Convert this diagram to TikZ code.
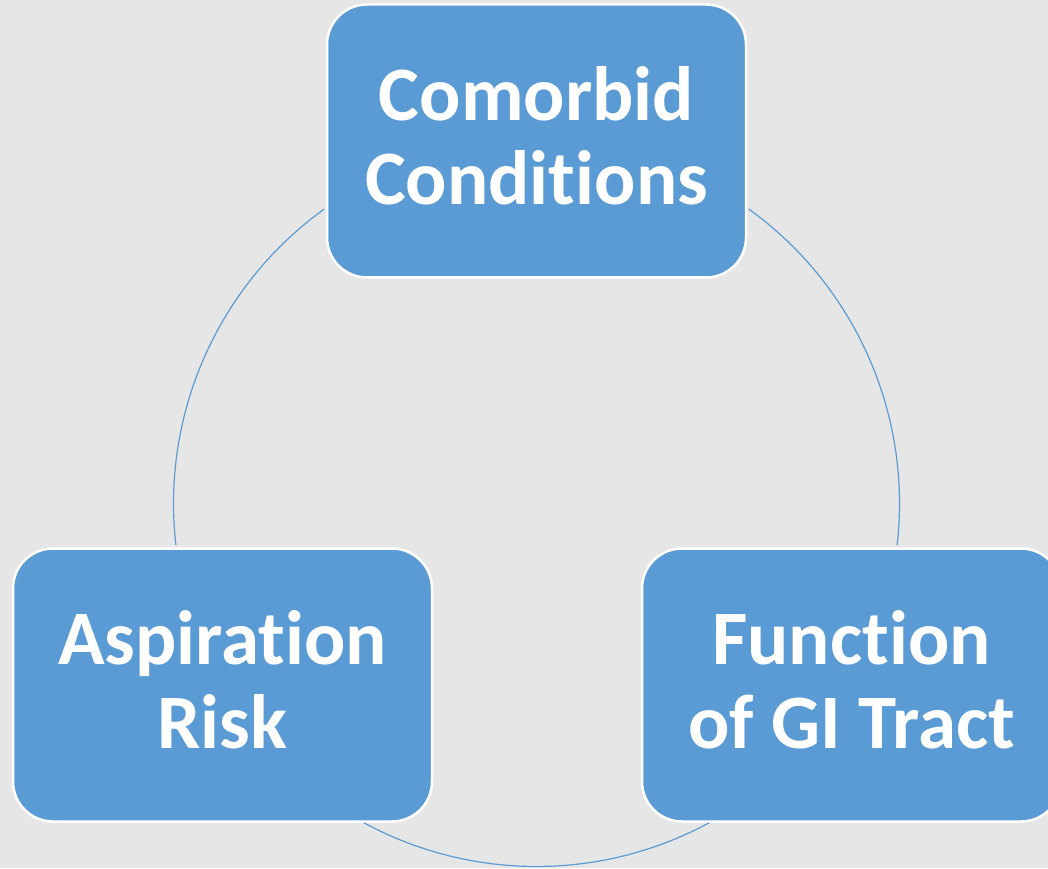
\documentclass[tikz,border=0pt]{standalone}
\usepackage{fontspec}
\usetikzlibrary{calc}
\setmainfont{Carlito}[Ligatures=NoCommon]
\definecolor{boxblue}{HTML}{5B9BD5}
\definecolor{pagegray}{HTML}{E7E6E6}
\begin{document}
\begin{tikzpicture}[x=1pt,y=1pt,
  cyclebox/.style={draw=white, line width=2.5pt, fill=boxblue, rounded corners=40pt,
    minimum width=419pt, minimum height=273pt, inner sep=0pt},
  boxtext/.style={text=white, align=center, inner sep=0pt,
    font=\fontsize{77}{84}\selectfont\bfseries},
  cyclearc/.style={draw=boxblue, line width=1.2pt}]
  % page background
  \fill[pagegray] (0,0) rectangle (1048,868);
  \useasboundingbox (0,0) rectangle (1048,868);
  % centre of the cycle
  \coordinate (C) at (536.5,364.5);
  % the three stages
  \node[cyclebox] (como) at (536.5,727) {};
  \node[cyclebox] (asp)  at (222.5,183) {};
  \node[cyclebox] (gi)   at (851.5,183) {};
  \node[boxtext] (comotxt) at ([yshift=5pt]como.center) {Comorbid\\Conditions};
  \node[boxtext] (asptxt)  at ([yshift=5pt]asp.center)  {Aspiration\\Risk};
  \node[boxtext] (gitxt)   at ([yshift=5pt]gi.center)   {Function\\of GI Tract};
  % arcs of the cycle between the stages
  \draw[cyclearc] ($(C)+(125.8:363)$) arc[start angle=125.8, end angle=186.6, radius=363];
  \draw[cyclearc] ($(C)+(54.2:363)$) arc[start angle=54.2, end angle=-6.6, radius=363];
  \draw[cyclearc] ($(C)+(241.6:363)$) arc[start angle=241.6, end angle=298.4, radius=363];
\end{tikzpicture}
\end{document}
